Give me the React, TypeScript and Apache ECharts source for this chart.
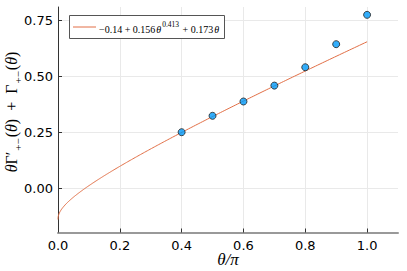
import React, { useEffect, useRef } from "react";
import * as echarts from "echarts";

// Observed points (θ/π, value)
const pointX = [0.4, 0.5, 0.6, 0.7, 0.8, 0.9, 1.0];
const pointY = [0.25, 0.323, 0.387, 0.458, 0.54, 0.643, 0.774];
// Fit from the legend: a + b θ^c + d θ  (θ in radians)
const fitCoef = [-0.14, 0.156, 0.413, 0.173];
const xTicks = [0, 0.2, 0.4, 0.6, 0.8, 1.0];
const yTicks = [0, 0.25, 0.5, 0.75];
const xGridVals = [0.2, 0.4, 0.6, 0.8, 1.0];
const xRange = [0, 1.1];
const yRange = [-0.198, 0.809];
const legendText = "{a|−0.14 + 0.156}{i|θ}{s|0.413}{a| + 0.173}{i|θ}";

function fitValue(xr: number): number {
  const t = xr * Math.PI;
  return fitCoef[0] + fitCoef[1] * Math.pow(t, fitCoef[2]) + fitCoef[3] * t;
}

export default function App() {
  const ref = useRef<HTMLDivElement>(null);
  useEffect(() => {
    document.body.style.margin = "0";
    const chart = echarts.init(ref.current!, null, { renderer: "svg" });
    const curve: number[][] = [];
    const n = 240;
    for (let k = 0; k <= n; k++) {
      const xr = Math.pow(k / n, 2);
      curve.push([xr, fitValue(xr)]);
    }
    const gridColor = "#e9e9e9";
    const mathFont = "Liberation Serif";
    chart.setOption({
      animation: false,
      grid: { left: 58, right: 9, top: 7, bottom: 38.5, containLabel: false, outerBoundsMode: "none" },
      xAxis: {
        type: "value",
        min: xRange[0],
        max: xRange[1],
        axisLine: { show: true, onZero: false, lineStyle: { color: "#999", width: 2 } },
        axisTick: { show: true, inside: true, length: 4, customValues: xTicks, lineStyle: { color: "#333" } },
        axisLabel: {
          customValues: xTicks,
          formatter: (v: number) => v.toFixed(1),
          fontFamily: "DejaVu Sans",
          fontSize: 13,
          color: "#000",
          margin: 6,
        },
        splitLine: { show: false },
      },
      yAxis: {
        type: "value",
        min: yRange[0],
        max: yRange[1],
        axisLine: { show: true, onZero: false, lineStyle: { color: "#333", width: 1 } },
        axisTick: { show: true, inside: true, length: 4, customValues: yTicks, lineStyle: { color: "#333" } },
        axisLabel: {
          customValues: yTicks,
          formatter: (v: number) => v.toFixed(2),
          fontFamily: "DejaVu Sans",
          fontSize: 13,
          color: "#000",
          margin: 5,
        },
        splitLine: { show: false },
      },
      series: [
        {
          type: "scatter",
          data: [[0, 0]],
          symbolSize: 0,
          silent: true,
          z: 0,
          markLine: {
            silent: true,
            symbol: ["none", "none"],
            z: 0,
            label: { show: false },
            lineStyle: { color: gridColor, width: 1, type: "solid" },
            data: [
              ...xGridVals.map((v) => ({ xAxis: v })),
              ...yTicks.map((v) => ({ yAxis: v })),
            ],
          },
        },
        {
          type: "line",
          data: curve,
          showSymbol: false,
          symbol: "none",
          z: 3,
          lineStyle: { color: "#E26F46", width: 1 },
        },
        {
          type: "scatter",
          data: pointX.map((x, i) => [x, pointY[i]]),
          symbolSize: 7,
          z: 4,
          itemStyle: { color: "#009AFA", borderColor: "#222", borderWidth: 1 },
        },
      ],
      graphic: [
        {
          type: "rect",
          shape: { x: 69.5, y: 15.5, width: 155, height: 23 },
          style: { fill: "#fff", stroke: "#555", lineWidth: 1 },
          z: 10,
        },
        {
          type: "line",
          shape: { x1: 73, y1: 27, x2: 96, y2: 27 },
          style: { stroke: "#E26F46", lineWidth: 1 },
          z: 11,
        },
        {
          type: "text",
          x: 99,
          y: 27,
          z: 11,
          style: {
            text: legendText,
            align: "left",
            verticalAlign: "middle",
            rich: {
              a: { fontFamily: mathFont, fontSize: 10, lineHeight: 14, verticalAlign: "bottom", fill: "#000" },
              i: { fontFamily: mathFont, fontStyle: "italic", fontSize: 10, lineHeight: 14, verticalAlign: "bottom", fill: "#000", padding: [0, 0, 0, 1] },
              s: { fontFamily: mathFont, fontSize: 7.5, lineHeight: 14, verticalAlign: "top", fill: "#000", padding: [0, 1, 0, 1] },
            },
          },
        },
        {
          type: "text",
          x: 228,
          y: 259,
          style: {
            text: "θ/π",
            align: "center",
            verticalAlign: "middle",
            fontFamily: mathFont,
            fontStyle: "italic",
            fontSize: 17,
            fill: "#000",
          },
        },
        {
          type: "text",
          x: 13,
          y: 112,
          rotation: Math.PI / 2,
          style: {
            text: "{i|θ}{n|Γ′}{s|+−}{n|(}{i|θ}{n|)  +  Γ}{s|+−}{n|(}{i|θ}{n|)}",
            align: "center",
            verticalAlign: "middle",
            rich: {
              n: { fontFamily: mathFont, fontSize: 16, lineHeight: 20, verticalAlign: "top", fill: "#000" },
              i: { fontFamily: mathFont, fontStyle: "italic", fontSize: 16, lineHeight: 20, verticalAlign: "top", fill: "#000" },
              s: { fontFamily: mathFont, fontSize: 11, lineHeight: 20, verticalAlign: "bottom", fill: "#000", padding: [0, 1, 0, 1] },
            },
          },
        },
      ],
    });
    return () => chart.dispose();
  }, []);
  return <div ref={ref} style={{ width: 407, height: 271 }} />;
}
